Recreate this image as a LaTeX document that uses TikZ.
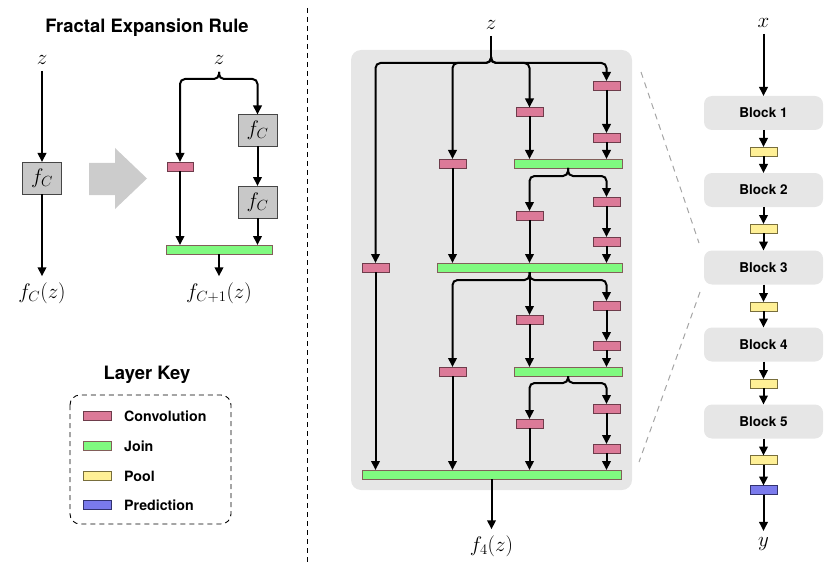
\RequirePackage{fix-cm}
\documentclass[tikz,border=0pt]{standalone}
\usepackage{fontspec}
\setsansfont{TeX Gyre Heros}
\usetikzlibrary{arrows.meta,calc}
\definecolor{convf}{RGB}{220,122,152}
\definecolor{convb}{RGB}{110,60,75}
\definecolor{joinf}{RGB}{128,250,128}
\definecolor{joinb}{RGB}{130,95,90}
\definecolor{poolf}{RGB}{255,240,150}
\definecolor{poolb}{RGB}{120,110,60}
\definecolor{predf}{RGB}{122,122,236}
\definecolor{predb}{RGB}{50,50,110}
\definecolor{fboxf}{RGB}{200,200,200}
\definecolor{fboxb}{RGB}{70,70,70}
\definecolor{panel}{RGB}{230,230,230}
\definecolor{bigarr}{RGB}{204,204,204}
\definecolor{dashgray}{RGB}{165,165,165}
\newcommand\mathsz{\fontsize{21}{25}\selectfont}
\begin{document}
\begin{tikzpicture}[x=1pt,y=-1pt,
 ln/.style={line width=2pt},
 arr/.style={line width=2pt,-{Triangle[length=9pt,width=8.5pt]}},
 layer/.style={draw, line width=0.9pt, minimum height=9pt, inner sep=0pt, outer sep=0pt},
 conv/.style={layer, draw=convb, fill=convf, minimum width=27pt},
 joinbar/.style={layer, draw=joinb, fill=joinf},
 pool/.style={layer, draw=poolb, fill=poolf, minimum width=27pt},
 pred/.style={layer, draw=predb, fill=predf, minimum width=27pt},
 fbox/.style={draw=fboxb, fill=fboxf, line width=0.9pt, minimum width=39pt, minimum height=32pt, inner sep=0pt, outer sep=0pt, font=\mathsz},
 blk/.style={fill=panel, rounded corners=8pt, minimum width=119pt, minimum height=34pt, inner sep=0pt, outer sep=0pt, font=\sffamily\bfseries\fontsize{13.5}{16}\selectfont},
 mlab/.style={font=\mathsz, inner sep=0pt, outer sep=6pt, anchor=base},
 ttl/.style={font=\sffamily\bfseries\fontsize{18.4}{22}\selectfont, inner sep=0pt},
 keytxt/.style={font=\sffamily\bfseries\fontsize{14.2}{17}\selectfont, anchor=west, inner sep=0pt},
 brc/.style={arr, rounded corners=5pt}
]
\useasboundingbox (0,0) rectangle (834,572);

% ---------------- Left: fractal expansion rule ----------------
\node[ttl] (t1) at (147,28) {Fractal Expansion Rule};
\node[mlab] (zl) at (42,65) {$z$};
\node[fbox] (fl) at (42,178) {$f_C$};
\node[mlab] (ol) at (42,298) {$f_C(z)$};
\draw[arr] (zl) -- (fl);
\draw[arr] (fl) -- (ol);

\fill[bigarr] (89,163) -- (115,163) -- (115,148) -- (147,178.5) -- (115,209) -- (115,195) -- (89,195) -- cycle;

\node[mlab] (zr) at (219,65) {$z$};
\coordinate (rc) at (219,72);
\coordinate (rb) at (219,79);
\node[conv, minimum width=26pt] (cl) at (180,166.5) {};
\node[fbox] (fa) at (257.5,130.5) {$f_C$};
\node[fbox] (fb) at (257.5,202) {$f_C$};
\node[joinbar, minimum width=106pt] (jl) at (219,249.5) {};
\node[mlab] (or) at (219,298) {$f_{C+1}(z)$};
\draw[brc] (rc) -- (rb) -- (rb -| cl) -- (cl.north);
\draw[brc] (rc) -- (rb) -- (rb -| fa) -- (fa.north);
\draw[arr] (cl) -- (cl |- jl.north);
\draw[arr] (fa) -- (fb);
\draw[arr] (fb) -- (fb |- jl.north);
\draw[arr] (jl) -- (or);

% separator
\draw[line width=0.9pt, dash pattern=on 5pt off 4pt] (307,8) -- (307,562);

% ---------------- Layer key ----------------
\node[ttl] (t2) at (147,375) {Layer Key};
\draw[line width=0.9pt, dash pattern=on 5pt off 4pt, rounded corners=10pt] (70,395) rectangle (231,524);
\node[conv, minimum width=28pt] (k1) at (97,416) {};
\node[keytxt] (k1t) at (124,416) {Convolution};
\node[joinbar, minimum width=28pt] (k2) at (97,446) {};
\node[keytxt] (k2t) at (124,446) {Join};
\node[pool, minimum width=28pt] (k3) at (97,476) {};
\node[keytxt] (k3t) at (124,476) {Pool};
\node[pred, minimum width=28pt] (k4) at (97,505) {};
\node[keytxt] (k4t) at (124,505) {Prediction};

% ---------------- Middle: fractal block ----------------
\fill[panel, rounded corners=10pt] (351,50) rectangle (632,490);
\node[mlab] (zm) at (491,30) {$z$};
\coordinate (mc) at (491,57);
\coordinate (mb) at (491,63);

% column 1
\node[conv] (c1) at (375.5,267.5) {};
% column 2
\node[conv] (c2a) at (452.5,163.5) {};
\node[conv] (c2b) at (452.5,371.5) {};
% column 3
\node[conv] (c3a) at (529.5,112) {};
\node[conv] (c3b) at (529.5,215.5) {};
\node[conv] (c3c) at (529.5,319.5) {};
\node[conv] (c3d) at (529.5,423.5) {};
% column 4
\node[conv] (c4a) at (606.5,85.5) {};
\node[conv] (c4b) at (606.5,137.5) {};
\node[conv] (c4c) at (606.5,201.5) {};
\node[conv] (c4d) at (606.5,241.5) {};
\node[conv] (c4e) at (606.5,305.5) {};
\node[conv] (c4f) at (606.5,345.5) {};
\node[conv] (c4g) at (606.5,408.5) {};
\node[conv] (c4h) at (606.5,448.5) {};
% joins
\node[joinbar, minimum width=108pt] (j1) at (568,163.5) {};
\node[joinbar, minimum width=185pt] (j2) at (529.5,267.5) {};
\node[joinbar, minimum width=108pt] (j3) at (568,371.5) {};
\node[joinbar, minimum width=259pt] (jf) at (491.5,474.5) {};
\node[mlab] (of) at (491.5,551) {$f_4(z)$};

% main brace
\draw[ln] (zm) -- (mc);
\draw[brc] (mc) -- (mb) -- (mb -| c1) -- (c1.north);
\draw[brc] (mc) -- (mb) -- (mb -| c2a) -- (c2a.north);
\draw[brc] (mc) -- (mb) -- (mb -| c3a) -- (c3a.north);
\draw[brc] (mc) -- (mb) -- (mb -| c4a) -- (c4a.north);
% first sub-block
\draw[arr] (c4a) -- (c4b);
\draw[arr] (c4b) -- (c4b |- j1.north);
\draw[arr] (c3a) -- (c3a |- j1.north);
% brace under j1
\coordinate (b1) at (568,176);
\draw[brc] (j1.south) -- (b1) -- (b1 -| c3b) -- (c3b.north);
\draw[brc] (j1.south) -- (b1) -- (b1 -| c4c) -- (c4c.north);
\draw[arr] (c4c) -- (c4d);
\draw[arr] (c4d) -- (c4d |- j2.north);
\draw[arr] (c3b) -- (c3b |- j2.north);
\draw[arr] (c2a) -- (c2a |- j2.north);
% brace under j2
\coordinate (b2) at (529.5,280);
\draw[brc] (j2.south) -- (b2) -- (b2 -| c2b) -- (c2b.north);
\draw[brc] (j2.south) -- (b2) -- (b2 -| c4e) -- (c4e.north);
\draw[arr] (j2.south) -- (c3c.north);
\draw[arr] (c4e) -- (c4f);
\draw[arr] (c4f) -- (c4f |- j3.north);
\draw[arr] (c3c) -- (c3c |- j3.north);
% brace under j3
\coordinate (b3) at (568,383);
\draw[brc] (j3.south) -- (b3) -- (b3 -| c3d) -- (c3d.north);
\draw[brc] (j3.south) -- (b3) -- (b3 -| c4g) -- (c4g.north);
\draw[arr] (c4g) -- (c4h);
\draw[arr] (c4h) -- (c4h |- jf.north);
\draw[arr] (c3d) -- (c3d |- jf.north);
\draw[arr] (c2b) -- (c2b |- jf.north);
\draw[arr] (c1) -- (c1 |- jf.north);
\draw[arr] (jf) -- (of);

% zoom lines
\draw[dashgray, line width=1pt, dash pattern=on 6pt off 5pt] (641,72) -- (699,243);
\draw[dashgray, line width=1pt, dash pattern=on 6pt off 5pt] (700,292) -- (639,462);

% ---------------- Right: network ----------------
\node[mlab] (xin) at (763.5,28) {$x$};
\node[blk] (B1) at (763.5,113) {Block 1};
\node[pool] (p1) at (763.5,151.5) {};
\node[blk] (B2) at (763.5,190) {Block 2};
\node[pool] (p2) at (763.5,228.5) {};
\node[blk] (B3) at (763.5,267.5) {Block 3};
\node[pool] (p3) at (763.5,306.5) {};
\node[blk] (B4) at (763.5,344.5) {Block 4};
\node[pool] (p4) at (763.5,383.5) {};
\node[blk] (B5) at (763.5,421.5) {Block 5};
\node[pool] (p5) at (763.5,460) {};
\node[pred] (pr) at (763.5,490) {};
\node[mlab] (yout) at (763.5,546) {$y$};
\draw[arr] (xin) -- (B1);
\draw[arr] (B1) -- (p1);
\draw[arr] (p1) -- (B2);
\draw[arr] (B2) -- (p2);
\draw[arr] (p2) -- (B3);
\draw[arr] (B3) -- (p3);
\draw[arr] (p3) -- (B4);
\draw[arr] (B4) -- (p4);
\draw[arr] (p4) -- (B5);
\draw[arr] (B5) -- (p5);
\draw[arr] (p5) -- (pr);
\draw[arr] (pr) -- (yout);
\end{tikzpicture}
\end{document}
